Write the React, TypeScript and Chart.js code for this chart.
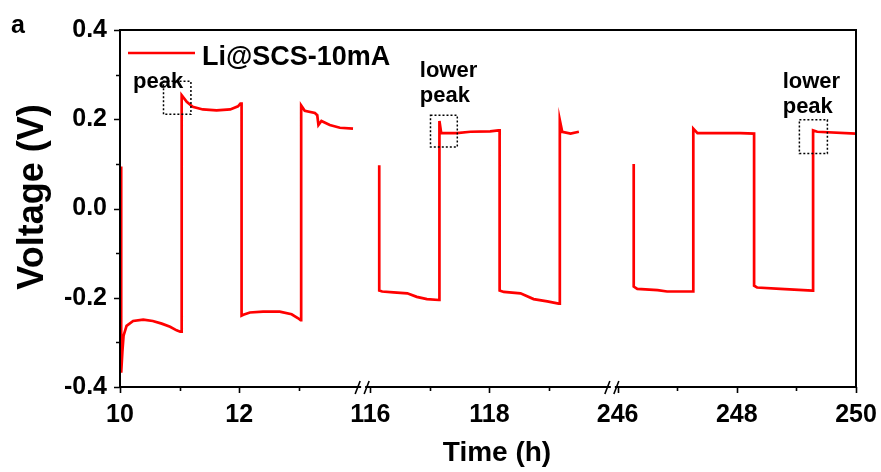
import React, { useEffect, useRef } from 'react';
import { Chart, registerables } from 'chart.js';

Chart.register(...registerables);

// ---------- data ----------
const seriesLabel = 'Li@SCS-10mA';

const seg1Time = [10.02, 10.02, 10.04, 10.06, 10.11, 10.22, 10.39, 10.55, 10.70, 10.84, 10.95, 11.01, 11.035,
  11.035, 11.12, 11.22, 11.39, 11.62, 11.85, 11.98, 12.02, 12.04,
  12.04, 12.07, 12.18, 12.40, 12.68, 12.88, 12.99, 13.03, 13.04,
  13.04, 13.10, 13.27, 13.31, 13.33, 13.38, 13.52, 13.69, 13.91];
const seg1Voltage = [0.094, -0.368, -0.32, -0.285, -0.263, -0.252, -0.249, -0.252, -0.258, -0.265, -0.273, -0.276, -0.276,
  0.254, 0.239, 0.228, 0.222, 0.220, 0.222, 0.229, 0.235, 0.235,
  -0.240, -0.238, -0.233, -0.231, -0.231, -0.237, -0.246, -0.250, -0.250,
  0.231, 0.219, 0.214, 0.209, 0.187, 0.196, 0.187, 0.181, 0.179];

const seg2Time = [116.15, 116.15, 116.20, 116.39, 116.62, 116.78, 116.95, 117.15, 117.16,
  117.16, 117.19, 117.45, 117.68, 118.01, 118.15, 118.17,
  118.17, 118.24, 118.52, 118.74, 118.97, 119.16, 119.18,
  119.18, 119.22, 119.36, 119.50];
const seg2Voltage = [0.097, -0.184, -0.186, -0.188, -0.190, -0.198, -0.203, -0.205, -0.205,
  0.196, 0.169, 0.169, 0.172, 0.173, 0.175, 0.175,
  -0.184, -0.187, -0.190, -0.203, -0.208, -0.213, -0.213,
  0.198, 0.172, 0.168, 0.172];

const seg3Time = [246.27, 246.27, 246.33, 246.67, 246.83, 247.25, 247.27,
  247.27, 247.34, 248.06, 248.29,
  248.29, 248.34, 248.73, 249.27, 249.28,
  249.28, 249.35, 250.0];
const seg3Voltage = [0.100, -0.175, -0.180, -0.183, -0.186, -0.186, -0.186,
  0.179, 0.169, 0.169, 0.168,
  -0.173, -0.177, -0.180, -0.184, -0.184,
  0.175, 0.172, 0.168];

const majorTimeTicks = [10, 12, 116, 118, 246, 248, 250];
const minorTimeTicks = [11, 13, 117, 119, 247, 249];
const voltageTicks = [-0.4, -0.3, -0.2, -0.1, 0, 0.1, 0.2, 0.3, 0.4];
const majorVoltageTicks = [-0.4, -0.2, 0, 0.2, 0.4];

// broken time axis: each piece keeps its own hours, shifted to a common axis
const axisSegments = [
  { start: 10, end: 14.08, offset: 0 },
  { start: 116, end: 120.07, offset: 4.2 },
  { start: 246, end: 250, offset: 8.35 },
];
const breakAfterSegment = [0, 1];

const peakBoxes = [
  { t0: 10.73, t1: 11.19, v0: 0.211, v1: 0.285 },
  { t0: 117.01, t1: 117.46, v0: 0.138, v1: 0.209 },
  { t0: 249.05, t1: 249.52, v0: 0.123, v1: 0.199 },
];
const peakNotes = [
  { t: 10.22, v: 0.27, lines: ['peak'] },
  { t: 116.83, v: 0.294, lines: ['lower', 'peak'] },
  { t: 248.77, v: 0.27, lines: ['lower', 'peak'] },
];

// ---------- helpers ----------
function toAxis(t: number): number {
  for (const s of axisSegments) {
    if (t >= s.start - 0.5 && t <= s.end + 0.5) return t - s.start + s.offset;
  }
  return NaN;
}
const axisMax = toAxis(250);

const FONT = '"Liberation Sans", Arial, sans-serif';
const RED = '#ff0000';

function pts(ts: number[], vs: number[]) {
  return ts.map((t, i) => ({ x: toAxis(t), y: vs[i] }));
}

function labelForAxisValue(u: number): string {
  for (const t of majorTimeTicks) {
    if (Math.abs(toAxis(t) - u) < 1e-6) return String(t);
  }
  return '';
}

const framePlugin = {
  id: 'frame',
  afterDraw(chart: any) {
    const { ctx, chartArea } = chart;
    const { left, right, top, bottom } = chartArea;
    const xs = chart.scales.x;
    const ys = chart.scales.y;
    ctx.save();
    ctx.strokeStyle = '#000';
    ctx.lineWidth = 2;
    ctx.strokeRect(left, top, right - left, bottom - top);

    // ticks
    ctx.lineWidth = 1.6;
    ctx.beginPath();
    for (const t of majorTimeTicks) {
      const px = Math.round(xs.getPixelForValue(toAxis(t))) + 0.5;
      ctx.moveTo(px, bottom); ctx.lineTo(px, bottom + 6);
    }
    for (const t of minorTimeTicks) {
      const px = Math.round(xs.getPixelForValue(toAxis(t))) + 0.5;
      ctx.moveTo(px, bottom); ctx.lineTo(px, bottom + 4);
    }
    for (const v of voltageTicks) {
      const py = Math.round(ys.getPixelForValue(v)) + 0.5;
      const major = majorVoltageTicks.some((m) => Math.abs(m - v) < 1e-9);
      ctx.moveTo(left, py); ctx.lineTo(left - (major ? 6 : 4), py);
    }
    ctx.stroke();

    // axis breaks
    for (const i of breakAfterSegment) {
      const s = axisSegments[i];
      const u = s.end - s.start + s.offset;
      const px = xs.getPixelForValue(u);
      ctx.fillStyle = '#fff';
      ctx.fillRect(px - 2, bottom - 3, 4, 6);
      ctx.strokeStyle = '#000';
      ctx.lineWidth = 1.6;
      ctx.beginPath();
      ctx.moveTo(px - 8, bottom + 7); ctx.lineTo(px - 3, bottom - 6);
      ctx.moveTo(px + 1, bottom + 7); ctx.lineTo(px + 6, bottom - 6);
      ctx.stroke();
    }

    // peak boxes
    ctx.strokeStyle = '#000';
    ctx.lineWidth = 1.5;
    ctx.setLineDash([2, 2]);
    for (const b of peakBoxes) {
      const x0 = xs.getPixelForValue(toAxis(b.t0));
      const x1 = xs.getPixelForValue(toAxis(b.t1));
      const y0 = ys.getPixelForValue(b.v1);
      const y1 = ys.getPixelForValue(b.v0);
      ctx.strokeRect(x0, y0, x1 - x0, y1 - y0);
    }
    ctx.setLineDash([]);

    // notes
    ctx.fillStyle = '#000';
    ctx.font = `bold 22px ${FONT}`;
    ctx.textAlign = 'left';
    ctx.textBaseline = 'alphabetic';
    for (const n of peakNotes) {
      const x = xs.getPixelForValue(toAxis(n.t));
      let y = ys.getPixelForValue(n.v);
      for (const line of n.lines) {
        ctx.fillText(line, x, y);
        y += 25;
      }
    }

    // legend
    ctx.strokeStyle = RED;
    ctx.lineWidth = 2.5;
    ctx.beginPath();
    ctx.moveTo(left + 8, top + 23);
    ctx.lineTo(left + 75, top + 23);
    ctx.stroke();
    ctx.fillStyle = '#000';
    ctx.font = `bold 27px ${FONT}`;
    ctx.fillText(seriesLabel, left + 82, top + 35);

    // axis titles and panel letter
    ctx.font = `bold 28px ${FONT}`;
    ctx.textAlign = 'center';
    ctx.fillText('Time (h)', 497, 461);
    ctx.save();
    ctx.translate(43, 197);
    ctx.rotate(-Math.PI / 2);
    ctx.font = `bold 36px ${FONT}`;
    ctx.fillText('Voltage (V)', 0, 0);
    ctx.restore();
    ctx.font = `bold 25px ${FONT}`;
    ctx.textAlign = 'left';
    ctx.fillText('a', 11, 33);
    ctx.restore();
  },
};

export default function App() {
  const ref = useRef<HTMLCanvasElement | null>(null);
  useEffect(() => {
    if (!ref.current) return;
    const ds = (data: any[]) => ({
      label: seriesLabel,
      data,
      borderColor: RED,
      borderWidth: 2.7,
      pointRadius: 0,
      tension: 0,
      fill: false,
    });
    const chart = new Chart(ref.current, {
      type: 'line',
      data: {
        datasets: [
          ds(pts(seg1Time, seg1Voltage)),
          ds(pts(seg2Time, seg2Voltage)),
          ds(pts(seg3Time, seg3Voltage)),
        ],
      },
      options: {
        animation: false,
        responsive: false,
        events: [],
        layout: { padding: { left: 0, right: 25, top: 30, bottom: 0 } },
        plugins: { legend: { display: false }, tooltip: { enabled: false } },
        scales: {
          x: {
            type: 'linear',
            min: 0,
            max: axisMax,
            grid: { display: false, drawTicks: false },
            border: { display: false },
            afterBuildTicks: (scale: any) => {
              scale.ticks = majorTimeTicks.map((t) => ({ value: toAxis(t) }));
            },
            afterFit: (scale: any) => {
              scale.height = 85;
              scale.paddingLeft = 0;
              scale.paddingRight = 0;
            },
            ticks: {
              autoSkip: false,
              maxRotation: 0,
              padding: 13,
              color: '#000',
              font: { family: FONT, size: 25, weight: 'bold' },
              callback: (value: any) => labelForAxisValue(Number(value)),
            },
          },
          y: {
            type: 'linear',
            min: -0.4,
            max: 0.4,
            grid: { display: false, drawTicks: false },
            border: { display: false },
            afterBuildTicks: (scale: any) => {
              scale.ticks = majorVoltageTicks.map((v) => ({ value: v }));
            },
            afterFit: (scale: any) => {
              scale.width = 120;
              scale.paddingTop = 0;
              scale.paddingBottom = 0;
            },
            ticks: {
              padding: 13,
              color: '#000',
              font: { family: FONT, size: 25, weight: 'bold' },
              callback: (value: any) => Number(value).toFixed(1),
            },
          },
        },
      },
      plugins: [framePlugin],
    } as any);
    return () => chart.destroy();
  }, []);
  return (
    <div style={{ position: 'fixed', left: 0, top: 0, width: 881, height: 472, background: '#fff' }}>
      <canvas ref={ref} width={881} height={472} style={{ display: 'block' }} />
    </div>
  );
}
